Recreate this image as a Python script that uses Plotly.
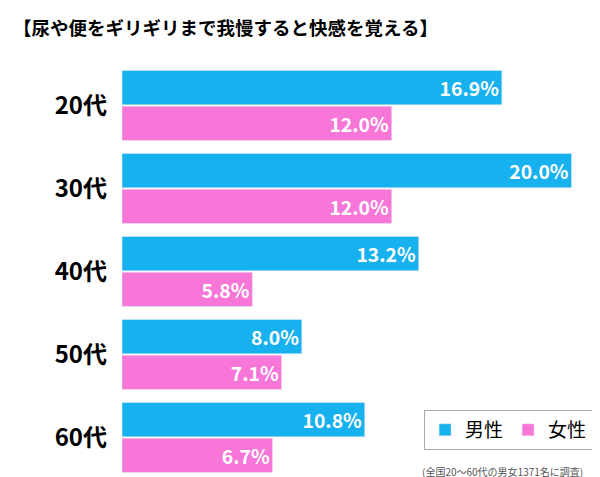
import plotly.graph_objects as go

ages = ["20代", "30代", "40代", "50代", "60代"]
male = [16.9, 20.0, 13.2, 8.0, 10.8]
female = [12.0, 12.0, 5.8, 7.1, 6.7]

fig = go.Figure()
for name, vals, col in [("男性", male, "#17b1ef"), ("女性", female, "#f776d8")]:
    fig.add_trace(go.Bar(
        y=ages, x=vals, orientation="h", name=name, marker_color=col,
        text=[f"{v:.1f}%" for v in vals], textposition="inside",
        insidetextanchor="end",
        textfont=dict(color="white", size=24, family="Noto Sans CJK JP"),
        texttemplate="<b>%{text}</b>",
    ))

fig.update_layout(
    width=600, height=477, barmode="group", bargap=0.14, bargroupgap=0.04,
    margin=dict(l=114, r=14, t=56, b=6),
    plot_bgcolor="white", paper_bgcolor="white",
    font=dict(family="Noto Sans CJK JP", color="black"),
    xaxis=dict(range=[0, 21.0], visible=False),
    yaxis=dict(autorange="reversed", tickfont=dict(size=24), ticklabelstandoff=14,
               tickprefix="<b>", ticksuffix="</b>", showgrid=False),
    legend=dict(x=0.64, y=0.07, xanchor="left", yanchor="bottom",
                orientation="h", bordercolor="#aaaaaa", borderwidth=1,
                font=dict(size=19), bgcolor="rgba(255,255,255,0.9)", traceorder="normal"),
    showlegend=True,
    annotations=[
        dict(text="<b>【尿や便をギリギリまで我慢すると快感を覚える】</b>", x=-0.235, y=1.125,
             xref="paper", yref="paper", xanchor="left", yanchor="top",
             showarrow=False, font=dict(size=18.5)),
        dict(text="(全国20～60代の男女1371名に調査)", x=0.98, y=-0.005,
             xref="paper", yref="paper", xanchor="right", yanchor="bottom",
             showarrow=False, font=dict(size=10, color="#555555")),
    ],
)
fig.write_html("out.html")
